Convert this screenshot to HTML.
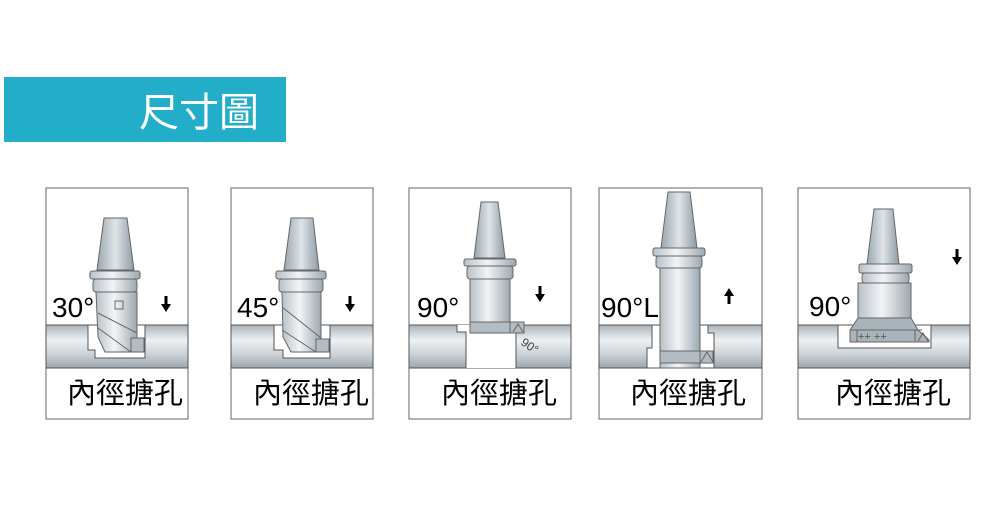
<!DOCTYPE html>
<html><head><meta charset="utf-8"><style>
html,body{margin:0;padding:0;background:#fff;width:1000px;height:508px;overflow:hidden}
svg{display:block}
text{font-family:"Liberation Sans","Noto Sans CJK TC",sans-serif}
</style></head><body>
<svg width="1000" height="508" viewBox="0 0 1000 508" xmlns="http://www.w3.org/2000/svg">
<defs>
<linearGradient id="wp" x1="0" y1="0" x2="0" y2="1">
<stop offset="0" stop-color="#a9b3ba"/><stop offset="0.35" stop-color="#eef1f3"/><stop offset="0.7" stop-color="#c9d0d5"/><stop offset="1" stop-color="#9aa5ad"/></linearGradient>
<linearGradient id="tl" x1="0" y1="0" x2="1" y2="0">
<stop offset="0" stop-color="#b8c1c8"/><stop offset="0.45" stop-color="#f2f4f6"/><stop offset="1" stop-color="#9da8b0"/></linearGradient>
<linearGradient id="cn" x1="0" y1="0" x2="1" y2="0">
<stop offset="0" stop-color="#9aa5ae"/><stop offset="0.5" stop-color="#dfe4e8"/><stop offset="1" stop-color="#8e9aa4"/></linearGradient>
<g id="arD"><rect x="-1.5" y="0" width="3" height="10" fill="#000"/><path d="M-5,8 L5,8 L0,16 Z" fill="#000"/></g>
</defs>

<rect x="4" y="77" width="282" height="65" fill="#22adc9"/>
<text x="139" y="126" font-size="40" fill="#fff">尺寸圖</text>

<!-- Panel 1 -->
<g stroke="#666" stroke-width="1">
<rect x="46" y="188" width="142" height="231" fill="#fff"/>
<rect x="46" y="325" width="142" height="43" fill="url(#wp)" stroke="#555"/>
<path d="M88,325 L88,350 L95,350 L95,358 L145,358 L145,325 Z" fill="#fff" stroke="#555"/>
<path d="M104,218 L127,218 L134,270 L97,270 Z" fill="url(#cn)"/>
<rect x="90" y="271" width="50" height="8" rx="2" fill="url(#tl)"/>
<rect x="93" y="279" width="44" height="13" rx="3" fill="url(#tl)"/>
<path d="M96,292 L137,292 L137,340 L131,352 L105,352 L98,337 Z" fill="url(#tl)"/>
<path d="M98,313 L137,333 M98,328 L131,352" fill="none"/>
<rect x="131" y="338" width="13" height="14" fill="#b3bcc3"/>
<rect x="115" y="301" width="8" height="8" fill="none"/>
</g>
<text x="52" y="317" font-size="28">30°</text>
<use href="#arD" x="166" y="296"/>
<text x="67" y="403" font-size="29">內徑搪孔</text>

<!-- Panel 2 -->
<g stroke="#666" stroke-width="1">
<rect x="231" y="188" width="142" height="231" fill="#fff"/>
<rect x="231" y="325" width="142" height="43" fill="url(#wp)" stroke="#555"/>
<path d="M274,325 L274,350 L283,350 L283,358 L330,358 L330,325 Z" fill="#fff" stroke="#555"/>
<path d="M291,218 L313,218 L319,270 L284,270 Z" fill="url(#cn)"/>
<rect x="276" y="271" width="50" height="8" rx="2" fill="url(#tl)"/>
<rect x="279" y="279" width="44" height="13" rx="3" fill="url(#tl)"/>
<path d="M282,292 L321,292 L321,340 L316,352 L291,352 L283,337 Z" fill="url(#tl)"/>
<path d="M282,307 L321,338 M282,330 L316,352" fill="none"/>
<rect x="316" y="339" width="13" height="13" fill="#b3bcc3"/>
</g>
<text x="237" y="317" font-size="28">45°</text>
<use href="#arD" x="350" y="296"/>
<text x="253" y="403" font-size="29">內徑搪孔</text>

<!-- Panel 3 -->
<g stroke="#666" stroke-width="1">
<rect x="409" y="188" width="162" height="231" fill="#fff"/>
<rect x="409" y="325" width="162" height="43" fill="url(#wp)" stroke="#555"/>
<path d="M457,325 L457,332 L466,332 L466,368 L516,368 L516,325 Z" fill="#fff" stroke="none"/>
<path d="M457,325 L457,332 L466,332 L466,368 M516,368 L516,325" fill="none" stroke="#555"/>
<path d="M481,202 L498,202 L505,258 L474,258 Z" fill="url(#cn)"/>
<rect x="464" y="259" width="52" height="7" rx="2" fill="url(#tl)"/>
<rect x="467" y="266" width="46" height="13" rx="3" fill="url(#tl)"/>
<rect x="470" y="279" width="40" height="54" fill="url(#tl)"/>
<rect x="470" y="322" width="54" height="11" fill="#b3bcc3"/>
<path d="M510,322 L510,333 M513,332 L518,324 L523,332" fill="none"/>
</g>
<text x="520" y="344" font-size="12" fill="#444" transform="rotate(35 520 344)">90°</text>
<text x="417" y="317" font-size="28">90°</text>
<use href="#arD" x="540" y="286"/>
<text x="441" y="403" font-size="29">內徑搪孔</text>

<!-- Panel 4 -->
<g stroke="#666" stroke-width="1">
<rect x="599" y="188" width="163" height="231" fill="#fff"/>
<rect x="599" y="325" width="163" height="43" fill="url(#wp)" stroke="#555"/>
<path d="M652,325 L652,348 L647,348 L647,368 L714,368 L714,333 L708,333 L708,325 Z" fill="#fff" stroke="#555"/>
<path d="M668,192 L690,192 L697,248 L661,248 Z" fill="url(#cn)"/>
<rect x="653" y="248" width="52" height="8" rx="2" fill="url(#tl)"/>
<rect x="656" y="256" width="46" height="12" rx="3" fill="url(#tl)"/>
<rect x="660" y="268" width="40" height="100" fill="url(#tl)"/>
<rect x="660" y="351" width="53" height="12" fill="#b3bcc3"/>
<path d="M700,351 L700,368 M701,362 L707,352 L713,362" fill="none"/>
</g>
<text x="601" y="317" font-size="28">90°L</text>
<g transform="translate(729,304) rotate(180)"><use href="#arD"/></g>
<text x="630" y="403" font-size="29">內徑搪孔</text>

<!-- Panel 5 -->
<g stroke="#666" stroke-width="1">
<rect x="798" y="188" width="172" height="231" fill="#fff"/>
<rect x="798" y="325" width="172" height="43" fill="url(#wp)" stroke="#555"/>
<path d="M838,325 L838,348 L931,348 L931,325 Z" fill="#fff" stroke="#555"/>
<path d="M874,209 L893,209 L899,264 L867,264 Z" fill="url(#cn)"/>
<rect x="859" y="264" width="53" height="9" rx="2" fill="url(#tl)"/>
<rect x="862" y="273" width="47" height="10" rx="3" fill="url(#tl)"/>
<rect x="858" y="283" width="53" height="35" fill="url(#tl)"/>
<path d="M858,318 L911,318 L918,330 L929,340 L929,342 L850,342 L850,330 Z" fill="#a9b3ba"/>
<path d="M857,330 L857,342 M915,330 L915,342 M850,330 L922,330" fill="none"/>
<path d="M918,341 L923,333 L928,341" fill="none"/>
</g>
<text x="858" y="340" font-size="11" fill="#555">++  ++</text>
<text x="809" y="316" font-size="28">90°</text>
<use href="#arD" x="957" y="249"/>
<text x="835" y="403" font-size="29">內徑搪孔</text>
</svg>
</body></html>
